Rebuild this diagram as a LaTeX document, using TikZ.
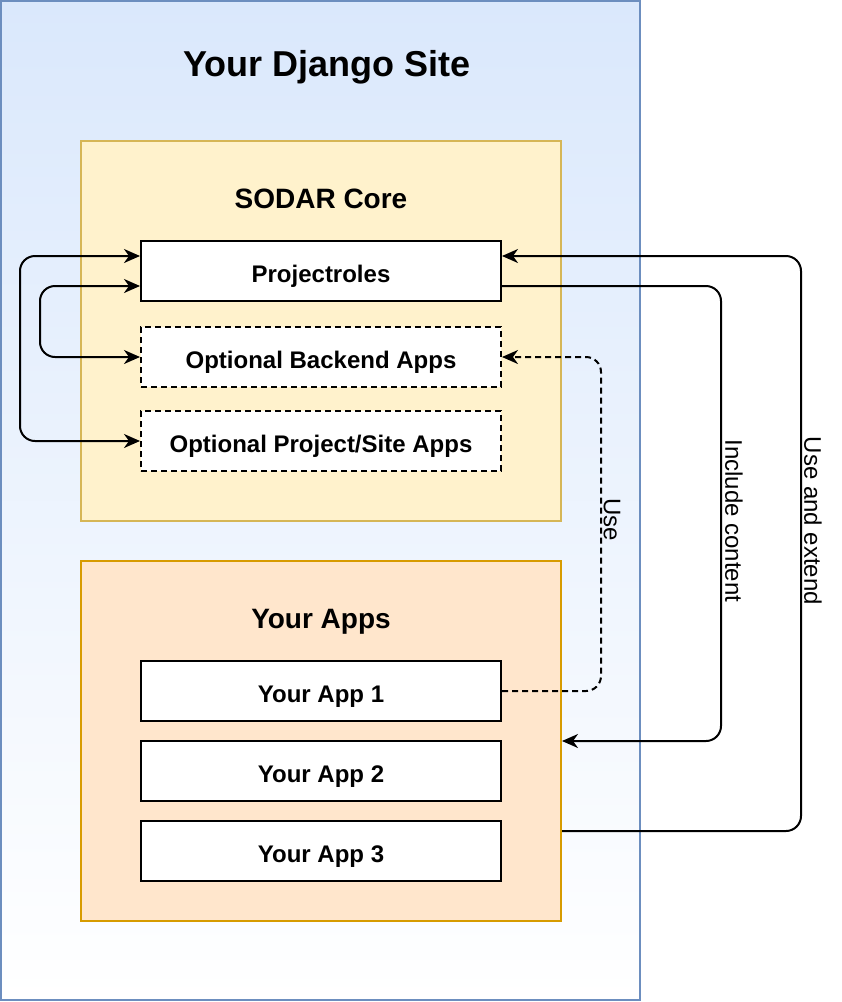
\documentclass[tikz,border=0pt]{standalone}
\usepackage{fontspec}
\setmainfont{Liberation Sans}
\usetikzlibrary{arrows.meta}

\definecolor{siteblue}{HTML}{DAE8FC}
\definecolor{siteline}{HTML}{6C8EBF}
\definecolor{corefill}{HTML}{FFF2CC}
\definecolor{coreline}{HTML}{D6B656}
\definecolor{appsfill}{HTML}{FFE6CC}
\definecolor{appsline}{HTML}{D79B00}

\begin{document}
\begin{tikzpicture}[x=1pt, y=-1pt, line width=2pt,
    appbox/.style={draw, fill=white, minimum width=\boxw, minimum height=\boxh, inner sep=0pt, text height=22pt, text depth=0pt, font=\fontsize{24}{28}\selectfont\bfseries},
    optbox/.style={appbox, dash pattern=on 6pt off 4pt},
    grouptitle/.style={inner sep=0pt, text height=20pt, text depth=0pt, font=\fontsize{28}{32}\selectfont\bfseries},
    edgelabel/.style={inner sep=0pt, rotate=-90, font=\fontsize{24}{28}\selectfont},
    link/.style={-{Stealth[length=16pt, width=14pt, inset=5pt]}, rounded corners=15pt},
    bilink/.style={{Stealth[length=16pt, width=14pt, inset=5pt]}-{Stealth[length=16pt, width=14pt, inset=5pt]}, rounded corners=15pt}]
    %--------------------%
    % Parameters
    %--------------------%
    \def\boxw{360pt}
    \def\boxh{60pt}
    \def\groupw{480pt}
    \def\boxx{321}

    \useasboundingbox (0,0) rectangle (842,1002);

    %--------------------%
    % Django Site
    %--------------------%
    \node[draw=siteline, top color=siteblue, bottom color=white, minimum width=639pt, minimum height=999pt, inner sep=0pt] (site) at (320.5,500.5) {};
    \node[inner sep=0pt, text height=26pt, text depth=0pt, font=\fontsize{36}{40}\selectfont\bfseries] (sitetitle) at (327,63.5) {Your Django Site};

    %--------------------%
    % SODAR Core
    %--------------------%
    \node[draw=coreline, fill=corefill, minimum width=\groupw, minimum height=380pt, inner sep=0pt] (core) at (\boxx,331) {};
    \node[grouptitle] (coretitle) at (\boxx,198) {SODAR Core};
    \node[appbox] (projectroles) at (\boxx,271) {Projectroles};
    \node[optbox] (backend) at (\boxx,357) {Optional Backend Apps};
    \node[optbox] (projsite) at (\boxx,441) {Optional Project/Site Apps};

    %--------------------%
    % Your Apps
    %--------------------%
    \node[draw=appsline, fill=appsfill, minimum width=\groupw, minimum height=360pt, inner sep=0pt] (apps) at (\boxx,741) {};
    \node[grouptitle] (appstitle) at (\boxx,618) {Your Apps};
    \node[appbox] (app1) at (\boxx,691) {Your App 1};
    \node[appbox] (app2) at (\boxx,771) {Your App 2};
    \node[appbox] (app3) at (\boxx,851) {Your App 3};

    %--------------------%
    % Connections
    %--------------------%
    % Inside SODAR Core
    \draw[bilink] ([yshift=15pt]projectroles.west) -- ++(-120,0) |- (projsite.west);
    \draw[bilink] ([yshift=-15pt]projectroles.west) -- ++(-100,0) |- (backend.west);

    % Your Apps to SODAR Core
    \draw[link, dash pattern=on 6pt off 4pt] (app1.east) -- ++(99,0) |- (backend.east);
    \draw[link] ([yshift=-15pt]projectroles.east) -- ++(219,0) |- (apps.east);
    \draw[link] ([yshift=-90pt]apps.east) -- ++(239,0) |- ([yshift=15pt]projectroles.east);

    %--------------------%
    % Connection Labels
    %--------------------%
    \node[edgelabel] (uselabel) at (612,520) {Use};
    \node[edgelabel] (includelabel) at (734,521) {Include content};
    \node[edgelabel] (extendlabel) at (813,521) {Use and extend};

\end{tikzpicture}
\end{document}
